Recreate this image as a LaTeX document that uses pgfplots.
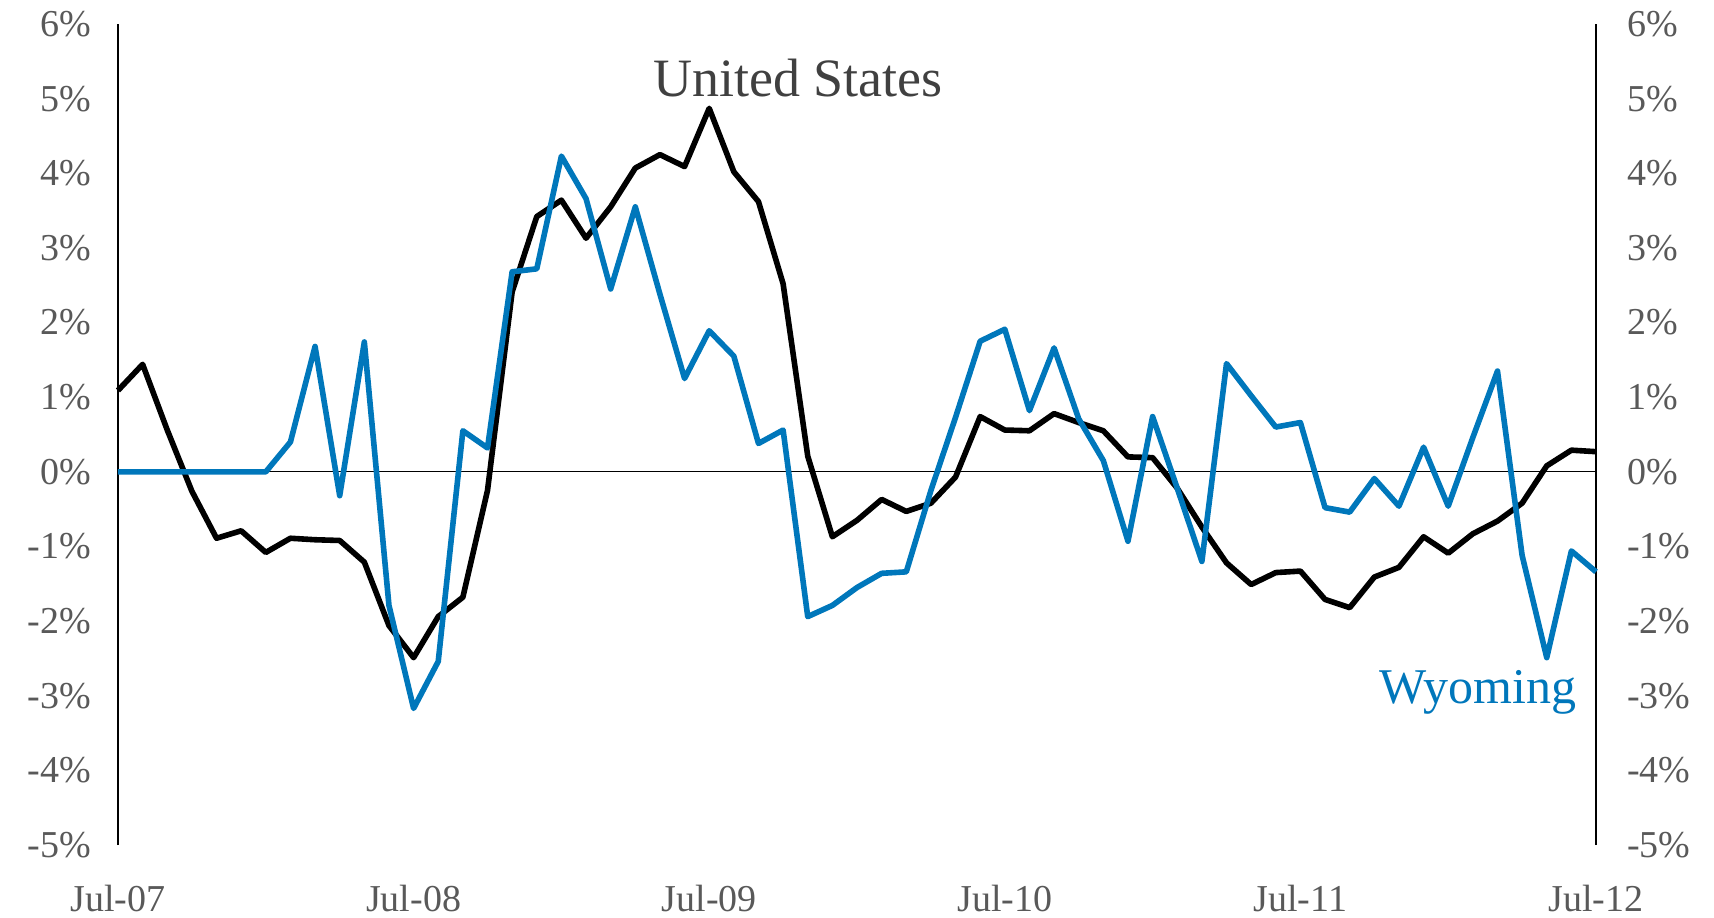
\documentclass[border=0pt]{standalone}
\usepackage{fontspec}
\setmainfont{Liberation Serif}
\usepackage{pgfplots}
\usepackage{pgfplotstable}
\pgfplotsset{compat=1.18}
\definecolor{wyblue}{RGB}{0,119,187}
\definecolor{ticktext}{RGB}{89,89,89}
\definecolor{ustext}{RGB}{64,64,64}

\pgfplotstableread{
m us wy
0 1.09 0
1 1.44 0
2 0.56 0
3 -0.26 0
4 -0.89 0
5 -0.79 0
6 -1.08 0
7 -0.89 0.40
8 -0.91 1.68
9 -0.92 -0.32
10 -1.21 1.74
11 -2.06 -1.79
12 -2.49 -3.17
13 -1.94 -2.54
14 -1.68 0.55
15 -0.25 0.32
16 2.41 2.68
17 3.42 2.72
18 3.64 4.23
19 3.13 3.66
20 3.55 2.45
21 4.07 3.55
22 4.25 2.38
23 4.09 1.25
24 4.87 1.89
25 4.02 1.55
26 3.62 0.38
27 2.52 0.56
28 0.21 -1.94
29 -0.87 -1.79
30 -0.65 -1.55
31 -0.37 -1.36
32 -0.53 -1.34
33 -0.42 -0.25
34 -0.07 0.73
35 0.74 1.75
36 0.56 1.91
37 0.55 0.82
38 0.78 1.66
39 0.66 0.71
40 0.55 0.15
41 0.20 -0.93
42 0.19 0.74
43 -0.22 -0.22
44 -0.74 -1.20
45 -1.22 1.45
46 -1.51 1.02
47 -1.35 0.60
48 -1.33 0.66
49 -1.71 -0.48
50 -1.82 -0.54
51 -1.41 -0.09
52 -1.28 -0.46
53 -0.87 0.33
54 -1.09 -0.46
55 -0.83 0.46
56 -0.66 1.35
57 -0.42 -1.12
58 0.08 -2.49
59 0.29 -1.06
60 0.27 -1.34
}\datatable

\begin{document}
\begin{tikzpicture}
\begin{axis}[name=main,
  scale only axis, width=739pt, height=410.5pt,
  xmin=0, xmax=60, ymin=-5, ymax=6,
  xtick={0,12,24,36,48,60},
  xticklabels={Jul-07,Jul-08,Jul-09,Jul-10,Jul-11,Jul-12},
  ytick={-5,-4,-3,-2,-1,0,1,2,3,4,5,6},
  yticklabels={-5\%,-4\%,-3\%,-2\%,-1\%,0\%,1\%,2\%,3\%,4\%,5\%,6\%},
  major tick length=0pt,
  separate axis lines,
  x axis line style={draw=none},
  y axis line style={black, line width=0.7pt},
  tick label style={color=ticktext, font=\fontsize{19}{22}\selectfont},
  yticklabel style={xshift=-10pt},
  xticklabel style={yshift=-16.5pt},
  clip=false,
]
\addplot[black, line width=0.65pt] coordinates {(0,0) (60,0)};
\addplot[black, line width=2.8pt, line join=round] table[x=m, y=us] {\datatable};
\addplot[wyblue, line width=2.8pt, line join=round] table[x=m, y=wy] {\datatable};
\node[ustext, font=\fontsize{27}{30}\selectfont] at (axis cs:27.6,5.28) {United States};
\node[wyblue, font=\fontsize{25}{28}\selectfont] at (axis cs:55.2,-2.95) {Wyoming};
\end{axis}
\begin{axis}[
  scale only axis, width=739pt, height=410.5pt,
  xmin=0, xmax=60, ymin=-5, ymax=6,
  hide x axis,
  axis line style={draw=none},
  yticklabel pos=right,
  ytick={-5,-4,-3,-2,-1,0,1,2,3,4,5,6},
  yticklabels={-5\%,-4\%,-3\%,-2\%,-1\%,0\%,1\%,2\%,3\%,4\%,5\%,6\%},
  major tick length=0pt,
  tick label style={color=ticktext, font=\fontsize{19}{22}\selectfont},
  yticklabel style={xshift=12pt},
]
\addplot[draw=none] coordinates {(0,0)};
\end{axis}
\pgfresetboundingbox
\path[use as bounding box] ([shift={(-59pt,-36pt)}]main.south west) rectangle ([shift={(59pt,12pt)}]main.north east);
\end{tikzpicture}
\end{document}
